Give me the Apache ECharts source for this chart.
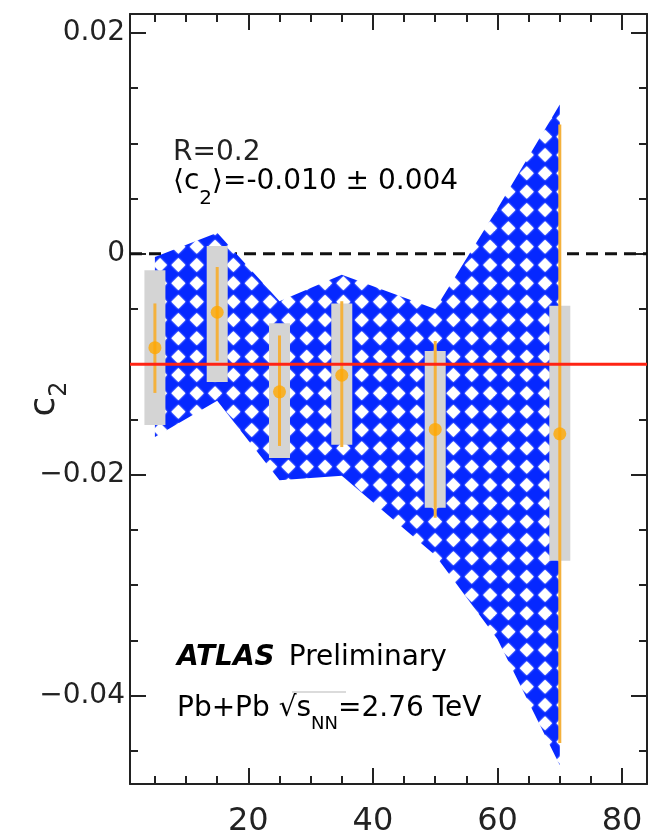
<!DOCTYPE html>
<html><head><meta charset="utf-8">
<script src="https://cdn.jsdelivr.net/npm/echarts@6/dist/echarts.min.js"></script>
<style>html,body{margin:0;padding:0;background:#fff}#c{width:657px;height:838px}</style>
</head><body><div id="c"></div>
<script>
// ---- data ----
const centrality = [5, 15, 25, 35, 50, 70];
const c2Value   = [-0.0085, -0.0053, -0.0125, -0.0110, -0.0159, -0.0163];
const statLow   = [-0.0126, -0.0097, -0.0174, -0.0175, -0.0239, -0.0443];
const statHigh  = [-0.0045, -0.0012, -0.0074, -0.0043, -0.0079, 0.0117];
const systLow   = [-0.0155, -0.0116, -0.0185, -0.0173, -0.0230, -0.0278];
const systHigh  = [-0.0015, 0.0007, -0.0063, -0.0045, -0.0088, -0.0047];
const bandX     = [5, 15, 25, 35, 50, 60, 70];
const bandHigh  = [-0.0003, 0.0019, -0.0043, -0.0019, -0.0050, 0.0041, 0.0135];
const bandLow   = [-0.0166, -0.0133, -0.0205, -0.0201, -0.0273, -0.0349, -0.0463];
const meanC2 = -0.010;
const zeroLevel = 0;
const xMajorTicks = [20, 40, 60, 80];
const xMinorTicks = [5, 10, 15, 25, 30, 35, 45, 50, 55, 65, 70, 75];
const yMajorTicks = [-0.04, -0.02, 0, 0.02];
const yMinorTicks = [-0.045, -0.035, -0.03, -0.025, -0.015, -0.01, -0.005, 0.005, 0.01, 0.015];
const X_MIN = 1, X_MAX = 84, Y_MIN = -0.048, Y_MAX = 0.0217;

// ---- styles ----
const FONT = 'DejaVu Sans';
const INK = '#222';
function makePattern() {
  const P = 55, step = P / 3;
  const cv = document.createElement('canvas'); cv.width = P; cv.height = P;
  const ctx = cv.getContext('2d');
  ctx.fillStyle = '#0628ff'; ctx.fillRect(0, 0, P, P);
  ctx.fillStyle = '#ffffff';
  ctx.shadowColor = 'rgba(255,255,255,0.9)'; ctx.shadowBlur = 2;
  const ox = 13.4 % step, oy = 8.3 % step, r = 7;
  for (let i = -1; i <= 3; i++) for (let j = -1; j <= 3; j++) {
    const cx = ox + i * step, cy = oy + j * step;
    ctx.beginPath(); ctx.moveTo(cx, cy - r); ctx.lineTo(cx + r, cy); ctx.lineTo(cx, cy + r); ctx.lineTo(cx - r, cy); ctx.closePath(); ctx.fill();
  }
  return cv;
}
const pattern = makePattern();

const lineStyle = { color: INK, width: 2 };
function xAxisDef(pos, ticks, len, label, line) {
  return {
    type: 'value', min: X_MIN, max: X_MAX, position: pos,
    axisLine: { show: line, onZero: false, lineStyle },
    axisTick: { show: true, inside: true, length: len, customValues: ticks, lineStyle },
    axisLabel: label ? { show: true, customValues: ticks, fontSize: 32, fontFamily: FONT, color: INK, margin: 22 } : { show: false },
    splitLine: { show: false }
  };
}
function yAxisDef(pos, ticks, len, label, line, extra) {
  return Object.assign({
    type: 'value', min: Y_MIN, max: Y_MAX, position: pos,
    axisLine: { show: line, onZero: false, lineStyle },
    axisTick: { show: true, inside: true, length: len, customValues: ticks, lineStyle },
    axisLabel: label ? {
      show: true, customValues: ticks, fontSize: 28, fontFamily: FONT, color: INK, margin: 5,
      formatter: v => Math.abs(v) < 1e-9 ? '0' : (v < 0 ? '\u2212' : '') + Math.abs(v).toFixed(2)
    } : { show: false },
    splitLine: { show: false }
  }, extra || {});
}

const points = centrality.map((x, i) => [x, c2Value[i]]);
const stat = centrality.map((x, i) => [x, statLow[i], statHigh[i]]);
const syst = centrality.map((x, i) => [x, systLow[i], systHigh[i]]);
const band = bandX.map((x, i) => [x, bandLow[i], bandHigh[i]]);

const chart = echarts.init(document.getElementById('c'));
chart.setOption({
  animation: false,
  backgroundColor: '#fff',
  grid: { left: 130, right: 10, top: 14, bottom: 54, containLabel: false, outerBoundsMode: 'none' },
  xAxis: [
    xAxisDef('bottom', xMajorTicks, 16, true, true),
    xAxisDef('bottom', xMinorTicks, 8, false, false),
    xAxisDef('top', xMajorTicks, 16, false, true),
    xAxisDef('top', xMinorTicks, 8, false, false)
  ],
  yAxis: [
    yAxisDef('left', yMajorTicks, 16, true, true, {
      name: '{c|c}{s|2}', nameLocation: 'middle', nameRotate: 90, nameGap: 58, nameMoveOverlap: false,
      nameTextStyle: { rich: {
        c: { fontSize: 36, fontFamily: FONT, color: INK },
        s: { fontSize: 24, fontFamily: FONT, color: INK, padding: [30, 0, 0, 0] }
      } }
    }),
    yAxisDef('left', yMinorTicks, 8, false, false),
    yAxisDef('right', yMajorTicks, 16, false, true),
    yAxisDef('right', yMinorTicks, 8, false, false)
  ],
  series: [
    { type: 'line', z: 1, data: [[X_MIN, zeroLevel], [X_MAX, zeroLevel]], symbol: 'none',
      lineStyle: { color: '#111', width: 3, type: [12, 7] } },
    { type: 'custom', z: 2, data: band,
      renderItem: (params, api) => {
        if (params.dataIndex !== 0) return null;
        const pts = [];
        for (let i = 0; i < band.length; i++) pts.push(api.coord([band[i][0], band[i][2]]));
        for (let i = band.length - 1; i >= 0; i--) pts.push(api.coord([band[i][0], band[i][1]]));
        return { type: 'polygon', shape: { points: pts }, style: { fill: { image: pattern, repeat: 'repeat' } } };
      } },
    { type: 'custom', z: 3, data: syst,
      renderItem: (params, api) => {
        const a = api.coord([api.value(0), api.value(2)]);
        const b = api.coord([api.value(0), api.value(1)]);
        const w = 21;
        return { type: 'rect', shape: { x: a[0] - w / 2, y: a[1], width: w, height: b[1] - a[1] }, style: { fill: '#d4d4d4' } };
      } },
    { type: 'custom', z: 4, data: stat,
      renderItem: (params, api) => {
        const a = api.coord([api.value(0), api.value(2)]);
        const b = api.coord([api.value(0), api.value(1)]);
        return { type: 'line', shape: { x1: a[0], y1: a[1], x2: b[0], y2: b[1] }, style: { stroke: '#f4b13c', lineWidth: 3 } };
      } },
    { type: 'line', z: 5, data: [[X_MIN, meanC2], [X_MAX, meanC2]], symbol: 'none',
      lineStyle: { color: '#ff2414', width: 3 } },
    { type: 'scatter', z: 6, data: points, symbol: 'circle', symbolSize: 13,
      itemStyle: { color: '#ffa800' } }
  ],
  graphic: [
    { type: 'text', z: 10, style: { x: 173, y: 153, text: 'R=0.2', font: '28px "DejaVu Sans"', fill: INK, verticalAlign: 'middle' } },
    { type: 'text', z: 10, style: { x: 173, y: 182, verticalAlign: 'middle',
      text: '{m|\u27E8c}{s|2}{m|\u27E9=-0.010 \u00B1 0.004}',
      rich: { m: { fontSize: 28, fontFamily: FONT, color: INK }, s: { fontSize: 20, fontFamily: FONT, color: INK, padding: [34, 0, 0, 0] } } } },
    { type: 'text', z: 10, style: { x: 177, y: 658, verticalAlign: 'middle',
      text: '{b|ATLAS}{m|Preliminary}',
      rich: { b: { fontSize: 28, fontFamily: FONT, fontWeight: 'bold', fontStyle: 'italic', color: INK, padding: [0, 14, 0, 0] },
              m: { fontSize: 28, fontFamily: FONT, color: INK } } } },
    { type: 'text', z: 10, style: { x: 177, y: 709, verticalAlign: 'middle',
      text: '{m|Pb+Pb }{m|\u221A}{m|s}{s|NN}{m|=2.76 TeV}',
      rich: { m: { fontSize: 28, fontFamily: FONT, color: INK }, s: { fontSize: 18, fontFamily: FONT, color: INK, padding: [30, 0, 0, 0] } } } },
    { type: 'line', z: 10, shape: { x1: 292, y1: 692, x2: 346, y2: 692 }, style: { stroke: '#cfcfcf', lineWidth: 1.5 } }
  ]
});
</script></body></html>
